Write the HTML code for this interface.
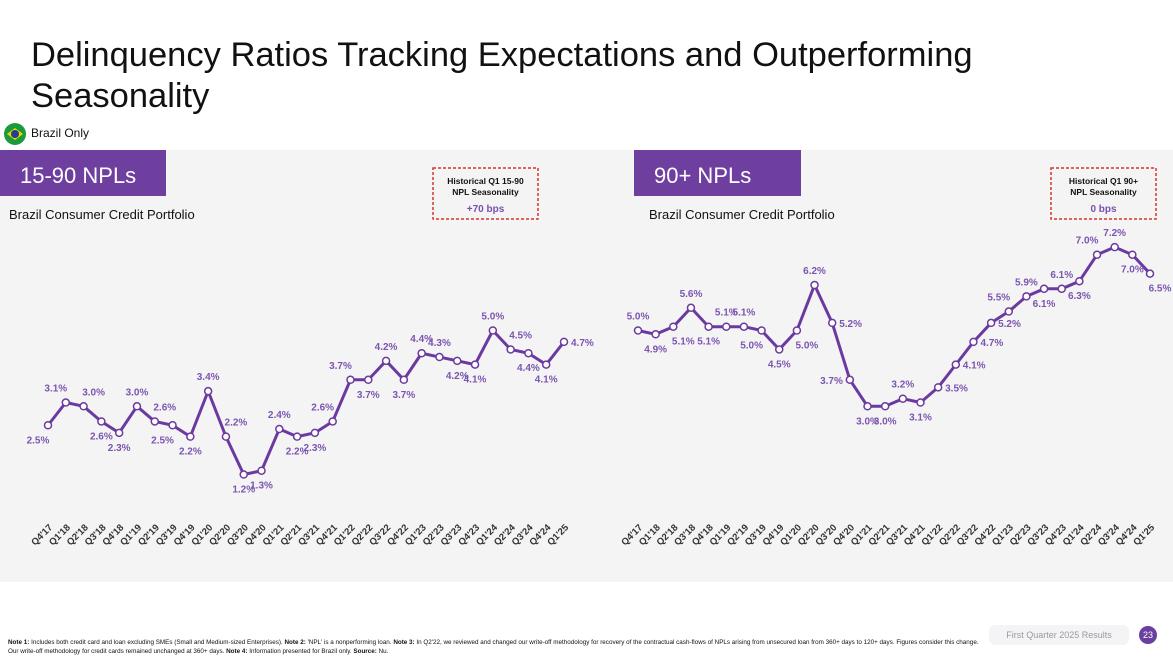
<!DOCTYPE html>
<html><head><meta charset="utf-8"><style>
html,body{margin:0;padding:0;background:#fff;}
body{width:1173px;height:660px;position:relative;overflow:hidden;font-family:"Liberation Sans",sans-serif;}
.abs{position:absolute;}
</style></head><body>
<div class="abs" style="left:31px;top:35px;font-size:34.5px;line-height:41px;color:#111;width:1050px;">Delinquency Ratios Tracking Expectations and Outperforming Seasonality</div>
<div class="abs" style="left:4px;top:123px;width:22px;height:22px;border-radius:50%;background:#1a9b3c;overflow:hidden;">
 <div style="position:absolute;left:3px;top:5px;width:16px;height:12px;background:#f5d100;clip-path:polygon(50% 0,100% 50%,50% 100%,0 50%);"></div>
 <div style="position:absolute;left:7px;top:7px;width:8px;height:8px;border-radius:50%;background:#1f3f8f;"></div>
</div>
<div class="abs" style="left:31px;top:126px;font-size:12px;color:#111;">Brazil Only</div>
<div class="abs" style="left:0;top:150px;width:1173px;height:432px;background:#f4f4f4;"></div>
<svg class="abs" style="left:0;top:0" width="1173" height="660" id="chart"></svg>
<div class="abs" style="left:8px;top:638px;width:975px;font-size:6.3px;line-height:9px;color:#111;"><b>Note 1:</b> Includes both credit card and loan excluding SMEs (Small and Medium-sized Enterprises). <b>Note 2:</b> 'NPL' is a nonperforming loan. <b>Note 3:</b> In Q2'22, we reviewed and changed our write-off methodology for recovery of the contractual cash-flows of NPLs arising from unsecured loan from 360+ days to 120+ days. Figures consider this change. Our write-off methodology for credit cards remained unchanged at 360+ days. <b>Note 4:</b> Information presented for Brazil only. <b>Source:</b> Nu.</div>
<div class="abs" style="left:989px;top:625px;width:140px;height:20px;background:#f4f4f6;border-radius:6px;font-size:9px;color:#999;line-height:20px;text-align:center;">First Quarter 2025 Results</div>
<div class="abs" style="left:1139px;top:626px;width:18px;height:18px;border-radius:50%;background:#6b3fa0;color:#fff;font-size:9px;line-height:18px;text-align:center;">23</div>
<script>
const categories=["Q4'17","Q1'18","Q2'18","Q3'18","Q4'18","Q1'19","Q2'19","Q3'19","Q4'19","Q1'20","Q2'20","Q3'20","Q4'20","Q1'21","Q2'21","Q3'21","Q4'21","Q1'22","Q2'22","Q3'22","Q4'22","Q1'23","Q2'23","Q3'23","Q4'23","Q1'24","Q2'24","Q3'24","Q4'24","Q1'25"];
const npl1590=[2.5,3.1,3.0,2.6,2.3,3.0,2.6,2.5,2.2,3.4,2.2,1.2,1.3,2.4,2.2,2.3,2.6,3.7,3.7,4.2,3.7,4.4,4.3,4.2,4.1,5.0,4.5,4.4,4.1,4.7];
const npl90=[5.0,4.9,5.1,5.6,5.1,5.1,5.1,5.0,4.5,5.0,6.2,5.2,3.7,3.0,3.0,3.2,3.1,3.5,4.1,4.7,5.2,5.5,5.9,6.1,6.1,6.3,7.0,7.2,7.0,6.5];
const labelPos1590=["bl","al","ar","b","b","a","ar","bl","b","a","ar","b","b","a","b","b","al","al","b","a","b","a","a","b","b","a","ar","b","b","r"];
const labelPos90=["a","b","br","a","b","a","a","bl","b","br","a","r","l","b","b","a","b","r","r","r","r","al","a","b","a","b","al","a","b","br"];
const svg=document.getElementById('chart');
const NS='http://www.w3.org/2000/svg';
function mk(t,a){const e=document.createElementNS(NS,t);for(const k in a)e.setAttribute(k,a[k]);svg.appendChild(e);return e;}
function panel(x0,width,title,boxX,boxTitle1,boxVal,nm){
  let r=mk('rect',{x:x0,y:150,width:width,height:46,fill:'#6f3fa0'});
  
  
  let t=mk('text',{x:x0+20,y:183,'font-size':22,fill:'#fff'});t.textContent=title;
  
  
  t=mk('text',{x:x0+(x0?15:9),y:219,'font-size':13,fill:'#111'});t.textContent='Brazil Consumer Credit Portfolio';
  
  
  let b=mk('rect',{x:boxX,y:168,width:105,height:51,fill:'none',stroke:'#d9342b','stroke-width':1.5,'stroke-dasharray':'3,2'});
  
  
  t=mk('text',{x:boxX+52.5,y:184,'font-size':8.5,'font-weight':'bold','text-anchor':'middle',fill:'#111'});t.textContent=boxTitle1;
  
  
  t=mk('text',{x:boxX+52.5,y:195,'font-size':8.5,'font-weight':'bold','text-anchor':'middle',fill:'#111'});t.textContent='NPL Seasonality';
  
  
  t=mk('text',{x:boxX+52.5,y:212,'font-size':10,'font-weight':'bold','text-anchor':'middle',fill:'#7a4fb0'});t.textContent=boxVal;
  
  
}
function series(xStart,xEnd,vals,pos,nm){
  const n=categories.length;
  const xs=i=>xStart+(xEnd-xStart)*i/(n-1);
  const ys=v=>520-37.9*v;
  const pts=vals.map((v,i)=>xs(i)+','+ys(v)).join(' ');
  let l=mk('polyline',{points:pts,fill:'none',stroke:'#6b3aa0','stroke-width':3,'stroke-linejoin':'round'});
  
  
  vals.forEach((v,i)=>{
    const x=xs(i),y=ys(v);
    let c=mk('circle',{cx:x,cy:y,r:3.5,fill:'#fff',stroke:'#6b3aa0','stroke-width':1.5});
    
    
    const p=pos[i];let dx=0,dy=0,anc='middle';
    if(p[0]=='a')dy=-11; else if(p[0]=='b')dy=18; else dy=4;
    if(p=='al'||p=='bl')dx=-10; if(p=='ar'||p=='br')dx=10;
    if(p=='r'){dx=7;anc='start';} if(p=='l'){dx=-7;anc='end';}
    let t=mk('text',{x:x+dx,y:y+dy,'font-size':10,'font-weight':'bold','text-anchor':anc,fill:'#7b55b0'});
    t.textContent=v.toFixed(1)+'%';
    
    
    let tk=mk('text',{x:x+5,y:528,'font-size':9.5,'font-weight':'bold','text-anchor':'end',fill:'#333',transform:`rotate(-45 ${x+5} 528)`});
    tk.textContent=categories[i];
    
    
  });
}
panel(0,166,'15-90 NPLs',433,'Historical Q1 15-90','+70 bps','npl-15-90');
panel(634,167,'90+ NPLs',1051,'Historical Q1 90+','0 bps','npl-90');
series(48,564,npl1590,labelPos1590,'npl-15-90');
series(638,1150,npl90,labelPos90,'npl-90');
</script>
</body></html>
